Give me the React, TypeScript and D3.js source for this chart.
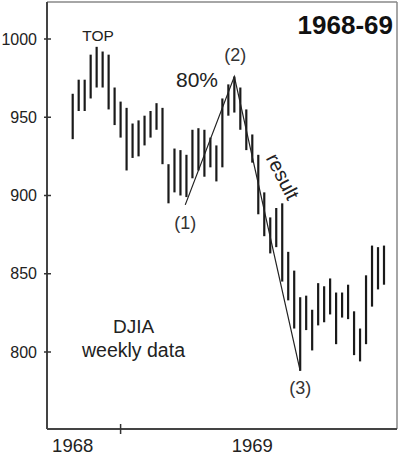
import React from "react";
import * as d3 from "d3";

// Weekly DJIA bars, 1968-69 (high / low)
const highs = [
  965, 974, 974, 990, 995, 992, 990, 969, 960, 956,
  946, 948, 951, 954, 959, 956, 920, 930, 929, 926,
  942, 943, 942, 937, 932, 962, 971, 976, 969, 955,
  939, 926, 902, 886, 892, 895, 864, 852, 835, 836,
  827, 844, 842, 847, 838, 838, 843, 826, 815, 849,
  868, 867, 868,
];
const lows = [
  936, 954, 954, 962, 969, 969, 955, 945, 937, 916,
  924, 925, 932, 937, 942, 920, 895, 902, 900, 899,
  911, 916, 912, 918, 909, 918, 951, 953, 942, 929,
  921, 888, 874, 863, 867, 845, 833, 815, 788, 814,
  801, 817, 819, 824, 805, 822, 821, 798, 794, 805,
  829, 840, 843,
];

const yTicks = [800, 850, 900, 950, 1000];
const xTickWeeks = [8];
const xLabels = ["1968", "1969"];
const xLabelWeeks = [0, 30];

// wave line (1) -> (2) -> (3)
const waveWeeks = [18.8, 27, 38];
const waveValues = [894, 976, 788];
const waveLabels = ["(1)", "(2)", "(3)"];

const W = 400;
const H = 455;
const FONT = "'Liberation Sans', Arial, Helvetica, sans-serif";
const INK = "#222";

export default function App() {
  const x = d3.scaleLinear().domain([0, highs.length - 1]).range([72.7, 384]);
  const y = d3.scaleLinear().domain([800, 1000]).range([352, 39]);
  const left = 47;
  const right = 397;
  const top = 2;
  const bottom = 429;

  const wave = waveWeeks.map((w, i) => [x(w), y(waveValues[i])] as [number, number]);
  const lineGen = d3.line();

  const labelOffsets = [
    { dx: 0, dy: 24 },
    { dx: 1, dy: -16 },
    { dx: 0, dy: 23 },
  ];

  return (
    <svg
      width={W}
      height={H}
      style={{ position: "absolute", left: 0, top: 0, background: "#fff" }}
      fontFamily={FONT}
    >
      <rect x={0} y={0} width={W} height={H} fill="#fff" />
      {/* frame */}
      <line x1={left} y1={top} x2={right} y2={top} stroke="#888" strokeWidth={1.5} />
      <line x1={right} y1={top} x2={right} y2={bottom} stroke="#888" strokeWidth={1.5} />
      <line x1={left} y1={top} x2={left} y2={bottom} stroke="#444" strokeWidth={2} />
      <line x1={left} y1={bottom} x2={right} y2={bottom} stroke="#444" strokeWidth={2} />

      {/* y ticks */}
      {yTicks.map((t) => (
        <g key={t}>
          <line x1={left - 3} x2={left + 4} y1={y(t)} y2={y(t)} stroke="#333" strokeWidth={1.5} />
          <text x={37} y={y(t) + 5.5} textAnchor="end" fontSize={16} fill={INK}>
            {t}
          </text>
        </g>
      ))}

      {/* x ticks */}
      {xTickWeeks.map((w) => (
        <line key={w} x1={x(w)} x2={x(w)} y1={bottom - 5} y2={bottom + 5} stroke="#333" strokeWidth={1.5} />
      ))}
      {xLabels.map((l, i) => (
        <text key={l} x={x(xLabelWeeks[i])} y={452} textAnchor="middle" fontSize={18.5} fill={INK}>
          {l}
        </text>
      ))}

      {/* bars */}
      {highs.map((h, i) => (
        <line
          key={i}
          x1={x(i)}
          x2={x(i)}
          y1={y(h)}
          y2={y(lows[i])}
          stroke="#1a1a1a"
          strokeWidth={2.2}
        />
      ))}

      {/* wave lines */}
      <path d={lineGen(wave) || ""} fill="none" stroke="#222" strokeWidth={1.2} />
      {waveLabels.map((l, i) => (
        <text
          key={l}
          x={wave[i][0] + labelOffsets[i].dx}
          y={wave[i][1] + labelOffsets[i].dy}
          textAnchor="middle"
          fontSize={18}
          fill="#333"
        >
          {l}
        </text>
      ))}

      {/* annotations */}
      <text x={98} y={41} textAnchor="middle" fontSize={15.5} fill={INK}>
        TOP
      </text>
      <text x={197} y={87} textAnchor="middle" fontSize={21} fill={INK}>
        80%
      </text>
      <text
        transform="translate(282,177) rotate(63)"
        textAnchor="middle"
        dy={6}
        fontSize={20}
        fill={INK}
      >
        result
      </text>
      <text x={393} y={34} textAnchor="end" fontSize={26} fontWeight="bold" fill="#111">
        1968-69
      </text>
      <text x={133.5} y={333} textAnchor="middle" fontSize={19} fill={INK}>
        DJIA
      </text>
      <text x={133.5} y={357} textAnchor="middle" fontSize={19.5} fill={INK}>
        weekly data
      </text>
    </svg>
  );
}
